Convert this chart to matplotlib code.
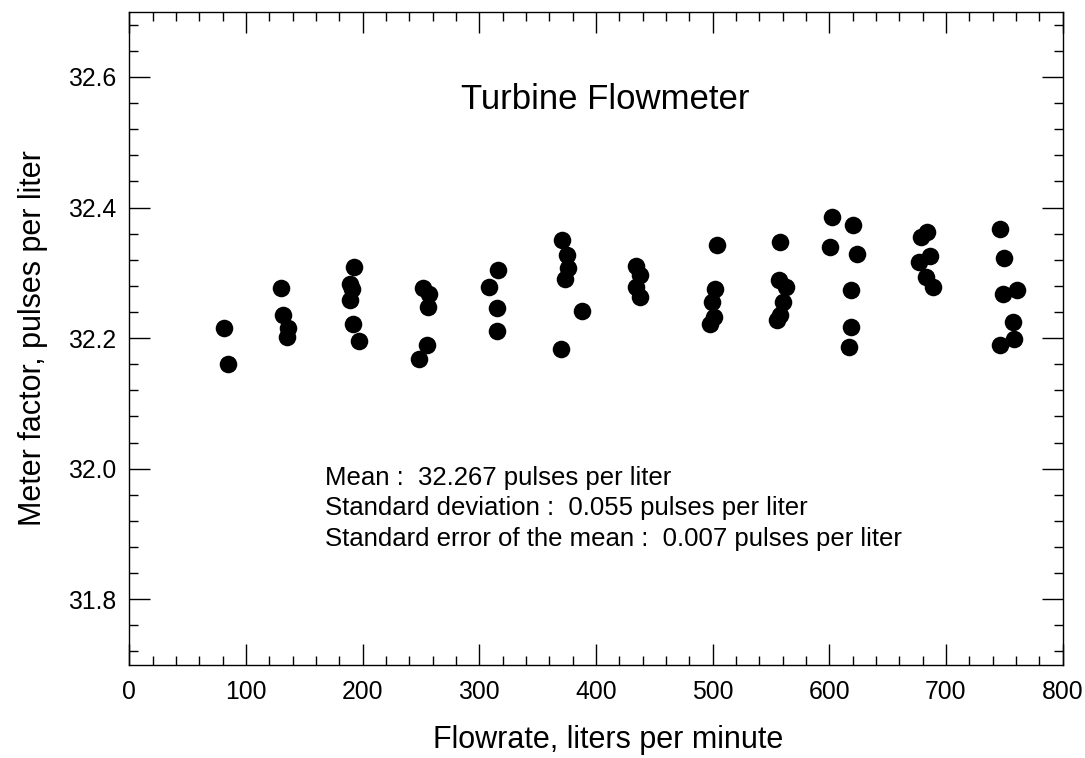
import matplotlib
matplotlib.use("Agg")
import matplotlib.pyplot as plt
from matplotlib.ticker import MultipleLocator

plt.rcParams['font.family'] = ['Liberation Sans', 'DejaVu Sans']

# flowrate (liters per minute) and meter factor (pulses per liter)
flowrate = [80.9, 84.9, 130.0, 132.0, 135.8, 135.0,
            193.0, 189.2, 191.2, 189.2, 192.0, 197.0,
            252.0, 257.2, 256.4, 255.0, 248.1,
            316.4, 308.7, 315.5, 315.0,
            370.7, 375.0, 375.9, 373.6, 387.9, 370.1,
            434.5, 437.9, 434.2, 437.9,
            503.6, 502.2, 499.4, 501.3, 497.9,
            557.9, 557.0, 563.0, 560.2, 557.4, 555.0,
            602.5, 620.3, 600.8, 623.7, 618.5, 618.5, 617.0,
            683.7, 678.8, 686.0, 676.5, 682.8, 688.5,
            746.5, 750.0, 760.8, 748.8, 757.4, 758.0, 746.5]
meterFactor = [32.215, 32.160, 32.276, 32.235, 32.215, 32.202,
               32.309, 32.283, 32.275, 32.259, 32.221, 32.195,
               32.277, 32.267, 32.248, 32.190, 32.168,
               32.305, 32.278, 32.246, 32.211,
               32.350, 32.328, 32.307, 32.291, 32.242, 32.183,
               32.311, 32.296, 32.278, 32.263,
               32.342, 32.275, 32.255, 32.233, 32.222,
               32.347, 32.289, 32.278, 32.256, 32.235, 32.228,
               32.385, 32.374, 32.339, 32.329, 32.274, 32.217, 32.187,
               32.362, 32.355, 32.325, 32.317, 32.294, 32.278,
               32.367, 32.322, 32.273, 32.267, 32.224, 32.199, 32.190]

statLines = ["Mean :  32.267 pulses per liter",
             "Standard deviation :  0.055 pulses per liter",
             "Standard error of the mean :  0.007 pulses per liter"]

fig = plt.figure(figsize=(10.85, 7.58), dpi=100)
ax = fig.add_axes([0.1192, 0.1233, 0.8602, 0.8613])

ax.scatter(flowrate, meterFactor, s=160, color="black", zorder=3, linewidths=0)

ax.set_xlim(0, 800)
ax.set_ylim(31.7, 32.7)
ax.xaxis.set_major_locator(MultipleLocator(100))
ax.xaxis.set_minor_locator(MultipleLocator(20))
ax.yaxis.set_major_locator(MultipleLocator(0.2))
ax.yaxis.set_minor_locator(MultipleLocator(0.04))
ax.yaxis.set_major_formatter(plt.FormatStrFormatter('%.1f'))

ax.tick_params(which='both', direction='in', top=True, right=True, width=1.0, labelsize=17.8)
ax.tick_params(which='major', length=15)
ax.tick_params(which='minor', length=6.5)
ax.tick_params(axis='x', which='major', pad=11)
ax.tick_params(axis='y', which='major', pad=9.5)
for sp in ax.spines.values():
    sp.set_linewidth(1.0)

ax.set_xlabel("Flowrate, liters per minute", fontsize=22)
ax.xaxis.set_label_coords(0.513, -0.093)
ax.set_ylabel("Meter factor, pulses per liter", fontsize=22, labelpad=14)

ax.text(407.7, 32.565, "Turbine Flowmeter", fontsize=25, ha='center', va='center')

for i, line in enumerate(statLines):
    ax.text(168, 31.986 - i * 0.0465, line, fontsize=18.5, ha='left', va='center')

fig.savefig("out.png", dpi=100)
